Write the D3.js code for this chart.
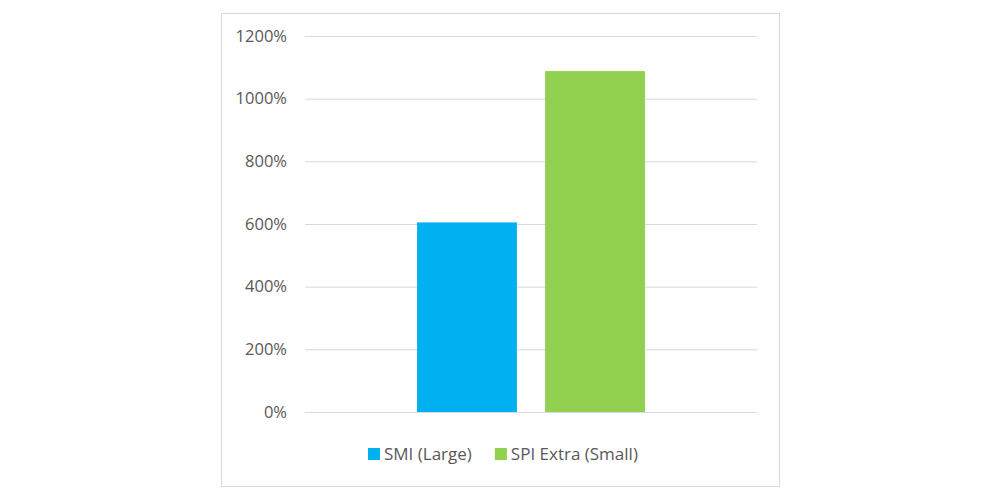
<!DOCTYPE html>
<html>
<head>
<meta charset="utf-8">
<script src="https://cdn.jsdelivr.net/npm/d3@7"></script>
<style>
  body { margin:0; background:#fff; }
  text { font-family: "Open Sans", "Noto Sans", sans-serif; fill:#595959; }
</style>
</head>
<body>
<svg id="chart" width="1000" height="500"></svg>
<script>
// data
var categories = ["Return"];
var series = ["SMI (Large)", "SPI Extra (Small)"];
var values = [605, 1088];
var colors = ["#00B0F0", "#92D050"];
var ticks = [0, 200, 400, 600, 800, 1000, 1200];

var svg = d3.select("#chart");
var plot = {left:305, right:757, top:36, bottom:412};

// chart frame
svg.append("rect")
   .attr("x", 221.5).attr("y", 13.5)
   .attr("width", 558).attr("height", 473)
   .attr("fill", "#fff")
   .attr("stroke", "#d9d9d9");

var y = d3.scaleLinear().domain([0, 1200]).range([plot.bottom, plot.top]);
var x0 = d3.scaleBand().domain(categories).range([plot.left, plot.right]);
var x1 = d3.scaleBand().domain(series).range([0, x0.bandwidth()])
           .paddingInner(0.22).paddingOuter(0.875);

// gridlines + labels
var yAxis = d3.axisLeft(y).tickValues(ticks)
              .tickSize(-(plot.right - plot.left))
              .tickPadding(18)
              .tickFormat(function(d){ return d + "%"; });
var ga = svg.append("g")
            .attr("transform", "translate(" + plot.left + ",0)")
            .call(yAxis);
ga.select(".domain").remove();
ga.selectAll("line").attr("stroke", "#d9d9d9").attr("stroke-width", 1);
ga.selectAll("text").style("font-size", "16.5px").attr("fill", "#595959");

// bars
var grp = svg.selectAll(".cat")
    .data(categories)
    .enter().append("g")
    .attr("class", "cat")
    .attr("transform", function(d){ return "translate(" + x0(d) + ",0)"; });

grp.selectAll("rect")
    .data(series.map(function(s, i){ return {name:s, value:values[i], color:colors[i]}; }))
    .enter().append("rect")
    .attr("x", function(d){ return x1(d.name); })
    .attr("width", x1.bandwidth())
    .attr("y", function(d){ return y(d.value); })
    .attr("height", function(d){ return y(0) - y(d.value); })
    .attr("fill", function(d){ return d.color; });

// legend
var leg = svg.append("g").attr("class", "legend");
var lx = 368, ly = 454;
series.forEach(function(s, i){
    var item = leg.append("g").attr("transform", "translate(" + lx + "," + ly + ")");
    item.append("rect").attr("x", 0).attr("y", -6).attr("width", 12).attr("height", 12)
        .attr("fill", colors[i]);
    var t = item.append("text").attr("x", 16).attr("y", 0).attr("dy", "0.35em")
        .style("font-size", "17px").text(s);
    lx += 16 + t.node().getComputedTextLength() + 23;
});
</script>
</body>
</html>
